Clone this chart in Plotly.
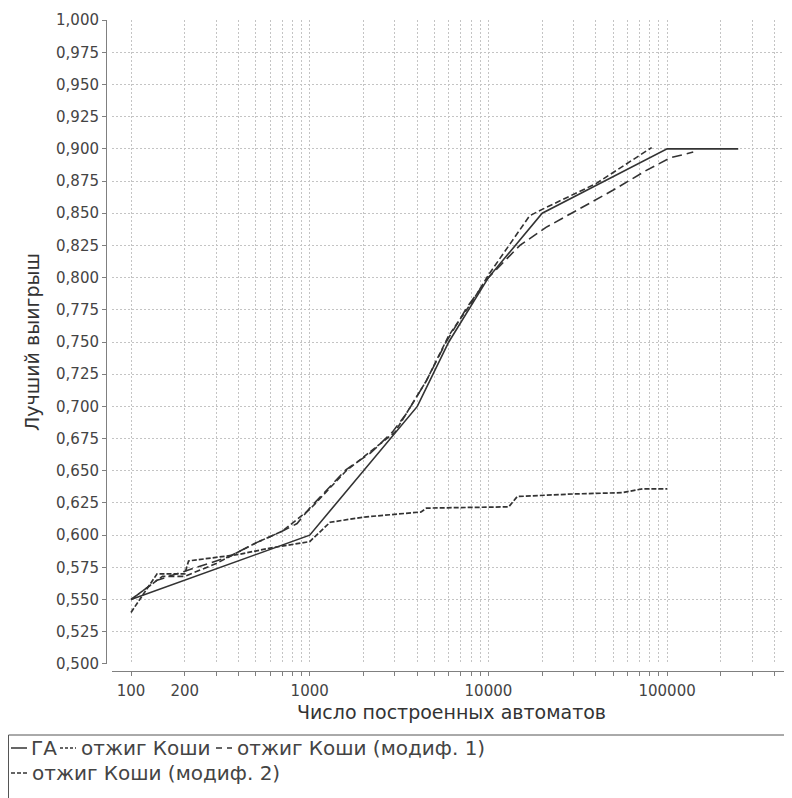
import plotly.graph_objects as go

# ---------------- data ----------------
ga_x = [100, 1000, 4000, 6000, 10000, 20000, 100000, 250000]
ga_y = [0.550, 0.600, 0.700, 0.750, 0.800, 0.850, 0.900, 0.900]

cauchy_x = [100, 140, 200, 210, 400, 600, 1000, 1300, 2000, 4200, 4500, 13000, 14500, 30000, 56000, 73000, 100000]
cauchy_y = [0.540, 0.570, 0.570, 0.580, 0.585, 0.590, 0.595, 0.610, 0.614, 0.618, 0.621, 0.622, 0.630, 0.632, 0.633, 0.636, 0.636]

mod1_x = [100, 140, 200, 350, 500, 700, 850, 1000, 1600, 2200, 2900, 3500, 4500, 5800, 7600, 10000,
          15000, 21000, 31000, 50000, 77000, 104000, 140000]
mod1_y = [0.550, 0.565, 0.572, 0.583, 0.594, 0.603, 0.609, 0.621, 0.651, 0.664, 0.680, 0.695, 0.720, 0.750, 0.777, 0.800,
          0.825, 0.839, 0.852, 0.868, 0.8835, 0.893, 0.8975]

mod2_x = [100, 150, 200, 300, 500, 700, 1000, 1600, 3000, 4500, 6000, 8000, 10000, 13000, 17000, 20000, 40000, 82000]
mod2_y = [0.550, 0.568, 0.568, 0.578, 0.594, 0.603, 0.620, 0.650, 0.680, 0.720, 0.755, 0.780, 0.802, 0.825, 0.848, 0.853, 0.873, 0.901]

x_tickvals = [m * 10 ** e for e in range(2, 6) for m in range(1, 10) if m * 10 ** e <= 400000]
x_label_set = {100: "100", 200: "200", 1000: "1000", 10000: "10000", 100000: "100000"}
x_ticktext = [x_label_set.get(v, "") for v in x_tickvals]

x_title = "Число построенных автоматов"
y_title = "Лучший выигрыш"
names = ["ГА", "отжиг Коши", "отжиг Коши (модиф. 1)", "отжиг Коши (модиф. 2)"]

# ---------------- figure ----------------
OFF = 8                      # browser body margin
W, H = 792 - OFF, 798 - OFF
ML, MR, MT, MB = 106 - OFF, 1, 20 - OFF, 127
PW = W - ML - MR
PH = H - MT - MB

def px(x):  # page pixel -> paper
    return (x - OFF - ML) / PW

def py(y):
    return (H - MB - (y - OFF)) / PH

LINE = "#333333"
fig = go.Figure()
fig.add_trace(go.Scatter(x=ga_x, y=ga_y, mode="lines", name=names[0],
                         line=dict(color=LINE, width=1.6), showlegend=False))
fig.add_trace(go.Scatter(x=cauchy_x, y=cauchy_y, mode="lines", name=names[1],
                         line=dict(color=LINE, width=1.7, dash="5px,2px"), showlegend=False))
fig.add_trace(go.Scatter(x=mod1_x, y=mod1_y, mode="lines", name=names[2],
                         line=dict(color=LINE, width=1.6, dash="10px,5px"), showlegend=False))
fig.add_trace(go.Scatter(x=mod2_x, y=mod2_y, mode="lines", name=names[3],
                         line=dict(color=LINE, width=1.6, dash="6px,3px"), showlegend=False))

FONT = "DejaVu Sans"
axis_common = dict(
    showline=True, linecolor="#808080", linewidth=1,
    ticks="outside", ticklen=4, tickcolor="#808080", tickwidth=1,
    showgrid=True, gridcolor="#c4c4c4", gridwidth=1, griddash="2px,2px",
    zeroline=False,
    tickfont=dict(family=FONT, size=15, color="#444444"),
)

fig.update_layout(
    width=W, height=H,
    margin=dict(l=ML, r=MR, t=MT, b=MB, pad=0),
    paper_bgcolor="white", plot_bgcolor="white",
    separators=", ",
    showlegend=False,
    xaxis=dict(type="log", domain=[6 / PW, 1], anchor="free", position=0,
               range=[1.8937, 5.6933], tickmode="array", tickvals=x_tickvals, ticktext=x_ticktext,
               ticklabelstandoff=2,
               title=dict(text=x_title, font=dict(family=FONT, size=19, color="#333333"), standoff=6),
               **axis_common),
    yaxis=dict(domain=[7 / PH, 1], anchor="free", position=0,
               range=[0.49995, 1.00005], tick0=0.5, dtick=0.025, tickformat=".3f",
               title=dict(text=y_title, font=dict(family=FONT, size=19, color="#333333"), standoff=10),
               **axis_common),
)

# ---------------- legend (drawn manually) ----------------
shapes = [dict(type="rect", xref="paper", yref="paper",
               x0=px(8.5), x1=px(900), y0=py(735), y1=py(900),
               line=dict(color="#555555", width=1), fillcolor="rgba(0,0,0,0)")]
annots = []
leg_font = dict(family=FONT, size=20, color="#444444")
rows = [
    [(11, 27, "solid", names[0], 29), (60, 76, "3px,2px", names[1], 79), (216, 232, "6px,5px", names[2], 235)],
    [(11, 27, "4px,2px", names[3], 30)],
]
row_y = [748, 773]
for r, items in enumerate(rows):
    yy = py(row_y[r])
    for (a, b, dash, label, tx) in items:
        shapes.append(dict(type="line", xref="paper", yref="paper", x0=px(a), x1=px(b), y0=yy, y1=yy,
                           line=dict(color=LINE, width=1.5, dash=dash)))
        annots.append(dict(xref="paper", yref="paper", x=px(tx), y=yy, text=label, showarrow=False,
                           xanchor="left", yanchor="middle", font=leg_font))
fig.update_layout(shapes=shapes, annotations=annots)

fig.write_html("out.html")
